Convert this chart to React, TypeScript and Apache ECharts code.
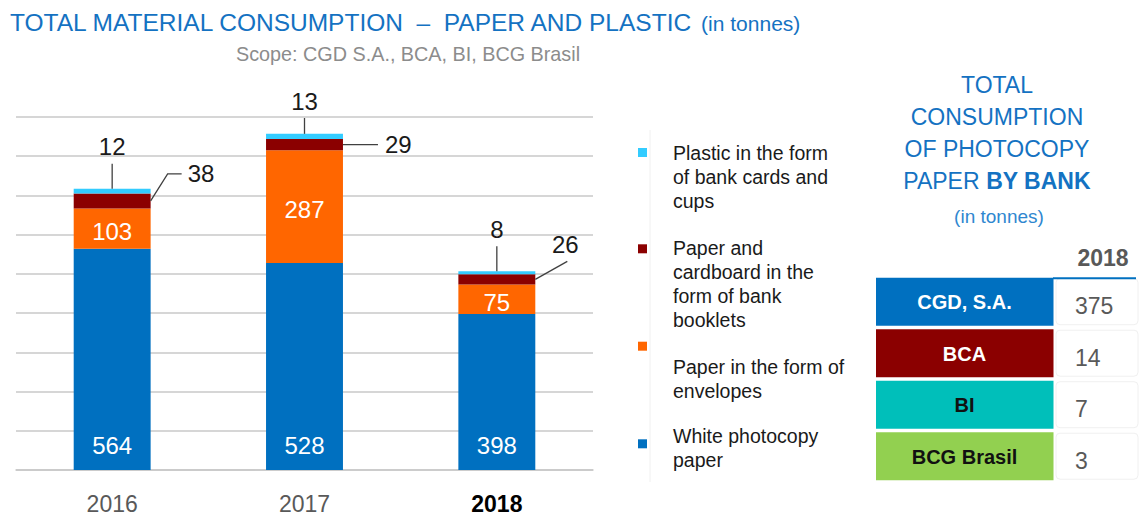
import React, { useEffect, useRef } from 'react';
import * as echarts from 'echarts';

// ---- data ----
const years = ['2016', '2017', '2018'];
const whitePaper = [564, 528, 398];
const envelopes = [103, 287, 75];
const booklets = [38, 29, 26];
const plastic = [12, 13, 8];

const seriesNames = [
  'White photocopy paper',
  'Paper in the form of envelopes',
  'Paper and cardboard in the form of bank booklets',
  'Plastic in the form of bank cards and cups',
];
const legendTexts = [
  'White photocopy\npaper',
  'Paper in the form of\nenvelopes',
  'Paper and\ncardboard in the\nform of bank\nbooklets',
  'Plastic in the form\nof bank cards and\ncups',
];

const yMax = 900;
const yInterval = 100;

const banks = ['CGD, S.A.', 'BCA', 'BI', 'BCG Brasil'];
const bankPaper2018 = [375, 14, 7, 3];
const tableYear = '2018';

// ---- styles / layout ----
const FONT = '"Liberation Sans", Arial, sans-serif';
const seriesColors = ['#0070C0', '#FF6600', '#8B0000', '#33CCFF'];
const bankColors = ['#0070C0', '#8B0000', '#00BFBA', '#92D050'];
const bankTextColors = ['#ffffff', '#ffffff', '#111111', '#111111'];
const BAR_RATIO = 0.4;
const GRID_COLOR = '#c8c8c8';
const TITLE_BLUE = '#1472C2';

// leader layouts for booklet labels (offsets relative to bar right edge / segment middle)
const bookletLeaders = [
  { pts: [[0, 0], [17, -27], [31, -27]], tx: 37, ty: -27, align: 'left' },
  { pts: [[0, 0], [35, 0]], tx: 42, ty: 0, align: 'left' },
  { pts: [[0, 0], [32, -18]], tx: 30, ty: -35, align: 'center' },
];

// legend layout (top to bottom: series index, square centre y, first text line centre y)
const legendLayout = [
  { s: 3, sq: 152.5, ty: 153.3 },
  { s: 2, sq: 248.8, ty: 248.3 },
  { s: 1, sq: 346.2, ty: 367.3 },
  { s: 0, sq: 443.8, ty: 436 },
];

function renderLeaders(params: any, api: any) {
  const i = api.value(0) as number;
  const total = whitePaper[i] + envelopes[i] + booklets[i] + plastic[i];
  const top = api.coord([i, total]);
  const cx = top[0];
  const topY = top[1];
  const band = api.size([1, 0])[0];
  const right = cx + (band * BAR_RATIO) / 2;
  const redTop = api.coord([i, total - plastic[i]])[1];
  const redBot = api.coord([i, total - plastic[i] - booklets[i]])[1];
  const redMid = (redTop + redBot) / 2;
  const ceiling = api.coord([i, yMax])[1] - 16;
  const labelY = Math.max(topY - 42, ceiling);
  const lay = bookletLeaders[i];
  return {
    type: 'group',
    children: [
      {
        type: 'line',
        shape: { x1: cx, y1: topY, x2: cx, y2: labelY + 17 },
        style: { stroke: '#404040', lineWidth: 1.3 },
      },
      {
        type: 'text',
        x: cx,
        y: labelY,
        style: {
          text: String(plastic[i]),
          fill: '#1a1a1a',
          fontSize: 24,
          fontFamily: FONT,
          align: 'center',
          verticalAlign: 'middle',
        },
      },
      {
        type: 'polyline',
        shape: { points: lay.pts.map(([dx, dy]) => [right + dx, redMid + dy]) },
        style: { stroke: '#404040', lineWidth: 1.3, fill: null },
      },
      {
        type: 'text',
        x: right + lay.tx,
        y: redMid + lay.ty,
        style: {
          text: String(booklets[i]),
          fill: '#1a1a1a',
          fontSize: 24,
          fontFamily: FONT,
          align: lay.align,
          verticalAlign: 'middle',
        },
      },
    ],
  };
}

function buildGraphic() {
  const g: any[] = [];
  // title
  g.push({
    type: 'text',
    x: 10,
    y: 22.3,
    style: {
      text: 'TOTAL MATERIAL CONSUMPTION  –  PAPER AND PLASTIC {s|(in tonnes)}',
      fill: TITLE_BLUE,
      fontSize: 24.5,
      fontFamily: FONT,
      align: 'left',
      verticalAlign: 'middle',
      rich: { s: { fill: TITLE_BLUE, fontSize: 21, fontFamily: FONT, padding: [3, 0, 0, 0] } },
    },
  });
  g.push({
    type: 'text',
    x: 408,
    y: 53.7,
    style: {
      text: 'Scope: CGD S.A., BCA, BI, BCG Brasil',
      fill: '#8c8c8c',
      fontSize: 19.8,
      fontFamily: FONT,
      align: 'center',
      verticalAlign: 'middle',
    },
  });
  // faint separator
  g.push({
    type: 'line',
    shape: { x1: 650, y1: 130, x2: 650, y2: 482 },
    style: { stroke: '#f0f0f0', lineWidth: 1 },
  });
  // legend
  legendLayout.forEach((l) => {
    g.push({
      type: 'rect',
      shape: { x: 638, y: l.sq - 4.5, width: 9, height: 9 },
      style: { fill: seriesColors[l.s] },
    });
    g.push({
      type: 'text',
      x: 673,
      y: l.ty - 12,
      style: {
        text: legendTexts[l.s],
        fill: '#1a1a1a',
        fontSize: 19.5,
        fontFamily: FONT,
        lineHeight: 24,
        align: 'left',
        verticalAlign: 'top',
      },
    });
  });
  // right panel title
  g.push({
    type: 'text',
    x: 997,
    y: 69,
    style: {
      text: 'TOTAL\nCONSUMPTION\nOF PHOTOCOPY\nPAPER {b|BY BANK}',
      fill: TITLE_BLUE,
      fontSize: 23,
      fontFamily: FONT,
      lineHeight: 32,
      align: 'center',
      verticalAlign: 'top',
      rich: { b: { fill: TITLE_BLUE, fontSize: 23, fontFamily: FONT, fontWeight: 'bold', lineHeight: 32 } },
    },
  });
  g.push({
    type: 'text',
    x: 999,
    y: 216.7,
    style: {
      text: '(in tonnes)',
      fill: '#2f87d0',
      fontSize: 19,
      fontFamily: FONT,
      align: 'center',
      verticalAlign: 'middle',
    },
  });
  // table header
  g.push({
    type: 'text',
    x: 1103,
    y: 257.5,
    style: {
      text: tableYear,
      fill: '#595959',
      fontSize: 23,
      fontWeight: 'bold',
      fontFamily: FONT,
      align: 'center',
      verticalAlign: 'middle',
    },
  });
  const rowTop = 277.7;
  const rowH = 48;
  const pitch = 51.5;
  banks.forEach((b, i) => {
    const y = rowTop + i * pitch;
    g.push({
      type: 'rect',
      shape: { x: 1056, y: y + 1, width: 82, height: rowH - 2, r: 4 },
      style: { fill: '#ffffff', stroke: '#f0f0f0', lineWidth: 1 },
    });
    g.push({
      type: 'rect',
      shape: { x: 876, y, width: 177.5, height: rowH },
      style: { fill: bankColors[i] },
    });
    g.push({
      type: 'text',
      x: 964.5,
      y: y + rowH / 2 + 0.5,
      style: {
        text: b,
        fill: bankTextColors[i],
        fontSize: 20,
        fontWeight: 'bold',
        fontFamily: FONT,
        align: 'center',
        verticalAlign: 'middle',
      },
    });
    g.push({
      type: 'text',
      x: 1075,
      y: y + rowH / 2 + 4.5,
      style: {
        text: String(bankPaper2018[i]),
        fill: '#595959',
        fontSize: 23,
        fontFamily: FONT,
        align: 'left',
        verticalAlign: 'middle',
      },
    });
  });
  g.push({
    type: 'line',
    shape: { x1: 1053, y1: 278.3, x2: 1136, y2: 278.3 },
    style: { stroke: '#0070C0', lineWidth: 2 },
  });
  return g;
}

export default function App() {
  const ref = useRef<HTMLDivElement>(null);
  useEffect(() => {
    if (!ref.current) return;
    const chart = echarts.init(ref.current, null, { renderer: 'svg' });
    const valueSeries = [whitePaper, envelopes, booklets, plastic];
    const option: any = {
      animation: false,
      backgroundColor: '#ffffff',
      textStyle: { fontFamily: FONT },
      grid: { left: 16, right: 547, top: 117, bottom: 42, containLabel: false },
      xAxis: {
        type: 'category',
        data: years,
        axisTick: { show: false },
        axisLine: { lineStyle: { color: GRID_COLOR, width: 1.5 } },
        axisLabel: {
          margin: 22,
          formatter: (v: string) => (v === years[years.length - 1] ? `{b|${v}}` : `{a|${v}}`),
          rich: {
            a: { fontSize: 23, color: '#595959', fontFamily: FONT },
            b: { fontSize: 23, color: '#000000', fontWeight: 'bold', fontFamily: FONT },
          },
        },
      },
      yAxis: {
        type: 'value',
        min: 0,
        max: yMax,
        interval: yInterval,
        axisLabel: { show: false },
        axisLine: { show: false },
        axisTick: { show: false },
        splitLine: { lineStyle: { color: GRID_COLOR, width: 1.5 } },
      },
      series: [
        ...valueSeries.map((d, k) => ({
          name: seriesNames[k],
          type: 'bar',
          stack: 'total',
          data: d,
          barWidth: `${BAR_RATIO * 100}%`,
          itemStyle: { color: seriesColors[k] },
          label:
            k === 0
              ? { show: true, position: 'insideBottom', distance: 13, color: '#ffffff', fontSize: 24, fontFamily: FONT }
              : k === 1
              ? { show: true, position: 'inside', offset: [0, 3], color: '#ffffff', fontSize: 24, fontFamily: FONT }
              : { show: false },
        })),
        {
          type: 'custom',
          name: 'labels',
          renderItem: renderLeaders,
          data: years.map((_, i) => [i, 0]),
          encode: { x: 0, y: 1 },
          clip: false,
          silent: true,
          z: 10,
        },
      ],
      graphic: buildGraphic(),
    };
    chart.setOption(option);
    return () => chart.dispose();
  }, []);
  return (
    <div
      ref={ref}
      style={{ position: 'fixed', left: 0, top: 0, width: 1140, height: 515, background: '#fff' }}
    />
  );
}
